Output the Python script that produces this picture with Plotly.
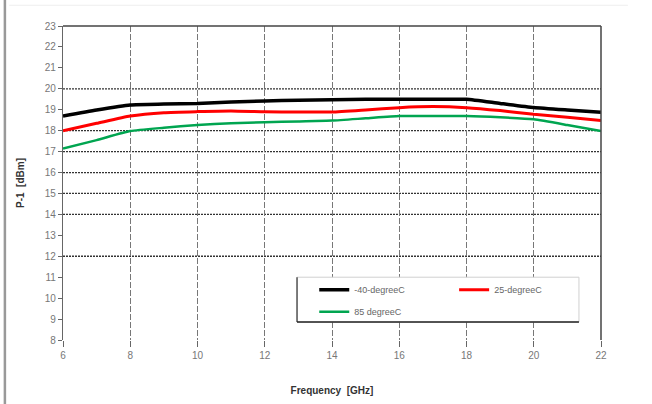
import plotly.graph_objects as go

freq = [6, 7, 8, 9, 10, 11, 12, 13, 14, 15, 16, 17, 18, 19, 20, 21, 22]
p1_m40 = [18.70, 18.99, 19.23, 19.27, 19.30, 19.37, 19.42, 19.45, 19.48, 19.50, 19.50, 19.50, 19.50, 19.30, 19.11, 18.99, 18.88]
p1_25 = [18.00, 18.35, 18.70, 18.86, 18.91, 18.94, 18.90, 18.89, 18.89, 18.99, 19.10, 19.15, 19.10, 18.96, 18.78, 18.64, 18.48]
p1_85 = [17.15, 17.55, 17.98, 18.14, 18.27, 18.35, 18.40, 18.44, 18.48, 18.59, 18.70, 18.70, 18.70, 18.64, 18.54, 18.27, 17.98]

series_names = ["-40-degreeC", "25-degreeC", "85 degreeC"]
series_colors = ["#000000", "#ff0000", "#00a550"]
series_widths = [3.5, 3, 2.5]
series_legends = ["legend", "legend2", "legend3"]

x_ticks = [6, 8, 10, 12, 14, 16, 18, 20, 22]
y_ticks = list(range(8, 24))
grid_levels = [12, 14, 15, 16, 17, 18, 20]

fig = go.Figure()
for name, ys, col, w, lg in zip(series_names, [p1_m40, p1_25, p1_85], series_colors, series_widths, series_legends):
    fig.add_trace(go.Scatter(x=freq, y=ys, mode="lines", name=name,
                             line=dict(color=col, width=w, shape="spline", smoothing=0.5),
                             legend=lg))

shapes = []
# legend box (opaque)
shapes.append(dict(type="rect", xref="paper", yref="paper", x0=0.435, x1=0.959, y0=0.057, y1=0.2,
                   fillcolor="white", line=dict(color="#d0d0d0", width=1), layer="above"))
shapes.append(dict(type="line", xref="paper", yref="paper", x0=0.435, x1=0.435, y0=0.057, y1=0.2,
                   line=dict(color="#333", width=1.2), layer="above"))
shapes.append(dict(type="line", xref="paper", yref="paper", x0=0.435, x1=0.959, y0=0.057, y1=0.057,
                   line=dict(color="#222", width=1.5), layer="above"))
# horizontal dotted gridlines
for g in grid_levels:
    shapes.append(dict(type="line", xref="paper", yref="y", x0=0, x1=1, y0=g, y1=g,
                       line=dict(color="#333", width=1.3, dash="2px,1px"), layer="below"))
# top and right frame
shapes.append(dict(type="line", xref="paper", yref="paper", x0=0, x1=1, y0=1, y1=1,
                   line=dict(color="#444", width=1.5), layer="above"))
shapes.append(dict(type="line", xref="paper", yref="paper", x0=1, x1=1, y0=0, y1=1,
                   line=dict(color="#444", width=1.5), layer="above"))
# page border bits
shapes.append(dict(type="line", xref="paper", yref="paper", x0=-0.108, x1=-0.108, y0=-0.21, y1=1.09,
                   line=dict(color="#999", width=2.5)))
shapes.append(dict(type="line", xref="paper", yref="paper", x0=-0.1, x1=1.05, y0=1.066, y1=1.066,
                   line=dict(color="#eeeeee", width=1)))

legend_common = dict(orientation="h", bgcolor="rgba(0,0,0,0)", borderwidth=0,
                     font=dict(family="Liberation Sans, Arial", size=9, color="#666"),
                     xanchor="left", yanchor="middle", itemwidth=30, tracegroupgap=0)

fig.update_layout(
    width=652, height=404,
    margin=dict(l=63, r=51, t=26, b=64, autoexpand=False),
    paper_bgcolor="white", plot_bgcolor="white",
    font=dict(family="Liberation Sans, Arial", color="#666"),
    showlegend=True,
    legend=dict(x=0.467, y=0.16, **legend_common),
    legend2=dict(x=0.727, y=0.16, **legend_common),
    legend3=dict(x=0.467, y=0.09, **legend_common),
    xaxis=dict(range=[6, 22], tickvals=x_ticks, ticktext=[str(t) for t in x_ticks],
               showgrid=True, gridcolor="#777", griddash="6px,2px", gridwidth=1,
               ticks="outside", ticklen=6, tickcolor="#666", zeroline=False, showline=False,
               tickfont=dict(size=10, color="#777"), automargin=False,
               title=dict(text="<b>Frequency  [GHz]</b>", font=dict(size=10, color="#333"), standoff=26)),
    yaxis=dict(range=[8, 23], tickvals=y_ticks, showgrid=False, zeroline=False,
               showline=True, linecolor="#666", linewidth=1.2,
               ticks="outside", ticklen=4, tickcolor="#666",
               tickfont=dict(size=10, color="#777"), automargin=False,
               title=dict(text="<b>P-1  [dBm]</b>", font=dict(size=10, color="#333"), standoff=18)),
    shapes=shapes,
)

fig.write_html("out.html", config={"displayModeBar": False},
               post_script="document.body.style.margin='0';document.body.style.overflow='hidden';")
